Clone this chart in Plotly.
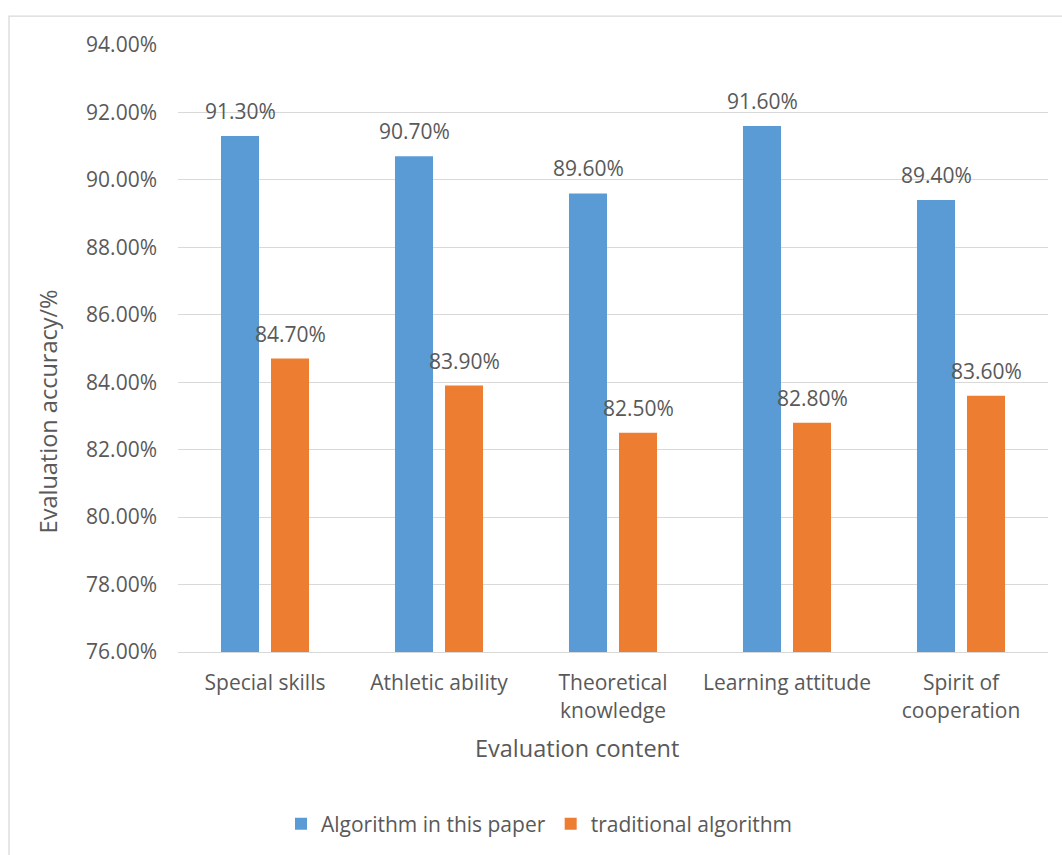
import plotly.graph_objects as go

categories = ["Special skills", "Athletic ability", "Theoretical<br>knowledge",
              "Learning attitude", "Spirit of<br>cooperation"]
algo_paper = [91.3, 90.7, 89.6, 91.6, 89.4]
traditional = [84.7, 83.9, 82.5, 82.8, 83.6]
series_names = ["Algorithm in this paper", "traditional algorithm"]
y_ticks = [76, 78, 80, 82, 84, 86, 88, 90, 92, 94]

BLUE = "#5B9BD5"
ORANGE = "#ED7D31"
TXT = "#595959"
GRID = "#D9D9D9"
FONT = "Open Sans"
FS = 21
FT = 23.5

W, H = 1062, 855
ML, MR, MT, MB = 178, 14, 45, 202
PW = W - ML - MR
PH = H - MT - MB

def px_x(px):
    return (px - ML) / PW

def px_y(py):
    return (H - MB - py) / PH

fig = go.Figure()
fig.add_trace(go.Bar(x=categories, y=algo_paper, name=series_names[0],
                     marker=dict(color=BLUE, line=dict(width=0))))
fig.add_trace(go.Bar(x=categories, y=traditional, name=series_names[1],
                     marker=dict(color=ORANGE, line=dict(width=0))))

annotations = []
for vals, shift in ((algo_paper, -25), (traditional, 25)):
    for c, v in zip(categories, vals):
        annotations.append(dict(x=c, y=v, xref="x", yref="y", text=f"{v:.2f}%",
                                showarrow=False, xshift=shift, yshift=25,
                                yanchor="middle", xanchor="center",
                                font=dict(family=FONT, size=FS, color=TXT)))

annotations.append(dict(x=px_x(48), y=px_y(412), xref="paper", yref="paper",
                        text="Evaluation accuracy/%", textangle=-90, showarrow=False,
                        xanchor="center", yanchor="middle",
                        font=dict(family=FONT, size=FT, color=TXT)))
annotations.append(dict(x=px_x(577), y=px_y(749), xref="paper", yref="paper",
                        text="Evaluation content", showarrow=False,
                        xanchor="center", yanchor="middle",
                        font=dict(family=FONT, size=FT, color=TXT)))

fig.update_layout(
    width=W, height=H,
    margin=dict(l=ML, r=MR, t=MT, b=MB),
    paper_bgcolor="white", plot_bgcolor="white",
    barmode="group", bargap=0.425, bargroupgap=0.24,
    font=dict(family=FONT, size=FS, color=TXT),
    showlegend=True,
    legend=dict(orientation="h", x=px_x(539), xanchor="center", y=px_y(824), yanchor="middle",
                font=dict(family=FONT, size=FS, color=TXT), itemwidth=30),
    annotations=annotations,
    shapes=[dict(type="rect", xref="paper", yref="paper",
                 x0=px_x(9), x1=px_x(1100), y0=px_y(900), y1=px_y(16),
                 line=dict(color=GRID, width=1.3), fillcolor="rgba(0,0,0,0)", layer="below")],
)
fig.update_yaxes(range=[76, 94], tickvals=y_ticks,
                 ticktext=[f"{t:.2f}%" for t in y_ticks],
                 showgrid=True, gridcolor=GRID, gridwidth=1.3,
                 zeroline=False, showline=False, ticks="",
                 ticklabelstandoff=20, tickfont=dict(family=FONT, size=FS, color=TXT))
fig.update_xaxes(showline=True, linecolor=GRID, linewidth=1.3, ticks="",
                 showgrid=False, ticklabelstandoff=12,
                 tickfont=dict(family=FONT, size=FS, color=TXT))

fig.write_html("out.html")
